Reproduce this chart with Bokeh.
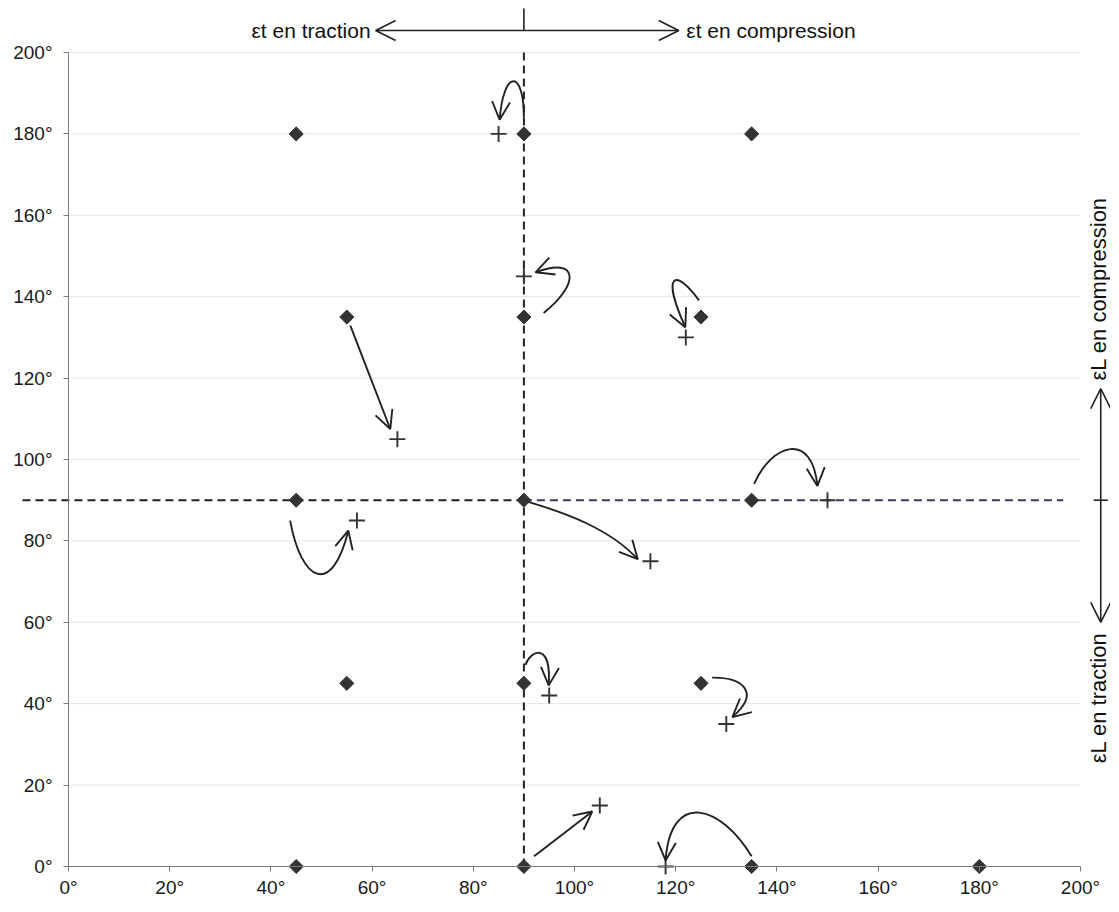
import numpy as np
from bokeh.plotting import figure
from bokeh.models import (Arrow, OpenHead, Label, ColumnDataSource, FixedTicker,
                          Range1d)
from bokeh.embed import file_html
from bokeh.resources import INLINE

# ---------------- data ----------------
tick_values = [0, 20, 40, 60, 80, 100, 120, 140, 160, 180, 200]
tick_labels = ["0°", "20°", "40°", "60°", "80°", "100°", "120°", "140°", "160°", "180°", "200°"]

# initial orientations (diamonds)
init_x = [45, 90, 135, 55, 90, 125, 45, 90, 135, 55, 90, 125, 45, 90, 135, 180]
init_y = [180, 180, 180, 135, 135, 135, 90, 90, 90, 45, 45, 45, 0, 0, 0, 0]

# final orientations (crosses)
final_x = [85, 90, 122, 65, 150, 57, 115, 95, 130, 105, 118]
final_y = [180, 145, 130, 105, 90, 85, 75, 42, 35, 15, 0]

# hand-drawn evolution arrows: start, control 1, control 2, end
arr_x0 = [90.0, 93.9, 124.6, 55.7, 43.8, 90.5, 135.5, 90.3, 127.2, 92.0, 135.0]
arr_y0 = [184.0, 136.0, 139.1, 132.9, 85.0, 89.7, 94.0, 49.5, 46.4, 2.5, 2.5]
arr_cx0 = [90.0, 101.0, 120.0, 58.3, 46.0, 98.0, 139.0, 91.5, 133.0, 95.8, 129.0]
arr_cy0 = [196.0, 143.0, 147.0, 124.4, 70.0, 87.0, 104.0, 53.5, 46.5, 6.2, 15.0]
arr_cx1 = [86.0, 101.0, 117.0, 61.0, 52.0, 107.0, 147.0, 95.5, 137.0, 99.7, 119.0]
arr_cy1 = [196.0, 150.0, 146.0, 116.0, 66.0, 83.0, 107.0, 55.0, 43.0, 9.8, 19.0]
arr_x1 = [85.2, 92.3, 121.9, 63.6, 55.3, 112.5, 148.0, 94.9, 131.2, 103.5, 118.0]
arr_y1 = [183.5, 146.0, 132.5, 107.5, 82.5, 75.5, 93.5, 44.5, 36.7, 13.5, 1.5]

# reference (symmetry) lines
vline_x = 90
vline_y = (0, 200)
hline_y = 90
hline_left_x = (-9.1, 90)
hline_right_x = (90, 196.6)

# axis annotations (strain directions)
top_arrow_y = 205.4
top_arrow_x = (60.7, 120.6)
top_tick_y = (205.4, 210.8)
right_arrow_x = 204.0
right_text_x = 203.6
right_arrow_y = (117.4, 60.0)
right_tick_x = (202.6, 205.4)

# ---------------- layout ----------------
W, H = 1110, 902
LEFT, RIGHT, TOP, BOTTOM = 68, 1080, 52, 866   # pixel position of data 0..200
sx = (RIGHT - LEFT) / 200.0
sy = (BOTTOM - TOP) / 200.0
x_range = Range1d(-LEFT / sx, 200 + (W - RIGHT) / sx)
y_range = Range1d(-(H - BOTTOM) / sy, 200 + TOP / sy)

FONT = "Liberation Sans"
INK = "#222222"

p = figure(width=W, height=H, x_range=x_range, y_range=y_range,
           output_backend="svg", toolbar_location=None,
           min_border_left=0, min_border_right=0, min_border_top=0, min_border_bottom=0)
p.outline_line_color = None
p.xgrid.visible = False
p.ygrid.visible = False

for ax in (p.xaxis[0], p.yaxis[0]):
    ax.fixed_location = 0
    ax.bounds = (0, 200)
    ax.ticker = FixedTicker(ticks=tick_values)
    ax.major_label_overrides = {t: l for t, l in zip(tick_values, tick_labels)}
    ax.axis_line_color = "#7a7a7a"
    ax.major_tick_line_color = "#7a7a7a"
    ax.major_tick_in = 0
    ax.major_tick_out = 5
    ax.minor_tick_line_color = None
    ax.major_label_text_font = FONT
    ax.major_label_text_font_size = "19px"
    ax.major_label_text_color = "#1a1a1a"
p.yaxis.major_label_standoff = 11
p.xaxis.major_label_standoff = 5

# faint horizontal grid lines
p.segment(x0=[0] * len(tick_values), x1=[200] * len(tick_values),
          y0=tick_values, y1=tick_values, line_color="#e6e6e6", line_width=1, level="underlay")

# dashed reference lines
p.segment(x0=[vline_x], y0=[vline_y[0]], x1=[vline_x], y1=[vline_y[1]],
          line_color="#222222", line_width=2, line_dash="8 5")
p.segment(x0=[hline_left_x[0]], y0=[hline_y], x1=[hline_left_x[1]], y1=[hline_y],
          line_color="#222222", line_width=2, line_dash="8 5")
p.segment(x0=[hline_right_x[0]], y0=[hline_y], x1=[hline_right_x[1]], y1=[hline_y],
          line_color="#3a3a60", line_width=2, line_dash="8 5")

# evolution curves
src = ColumnDataSource(dict(x0=arr_x0, y0=arr_y0, cx0=arr_cx0, cy0=arr_cy0,
                            cx1=arr_cx1, cy1=arr_cy1, x1=arr_x1, y1=arr_y1))
p.bezier(x0="x0", y0="y0", x1="x1", y1="y1", cx0="cx0", cy0="cy0", cx1="cx1", cy1="cy1",
         source=src, line_color=INK, line_width=1.9)
p.add_layout(Arrow(x_start="cx1", y_start="cy1", x_end="x1", y_end="y1", source=src,
                   line_alpha=0,
                   end=OpenHead(size=18, line_color=INK, line_width=1.9)))

# points
p.scatter(init_x, init_y, marker="square", angle=np.pi / 4, size=10,
          fill_color="#333333", line_color="#333333")
p.scatter(final_x, final_y, marker="cross", size=16, line_color="#333333", line_width=1.9)

# top annotation (transverse strain)
for xe in top_arrow_x:
    p.add_layout(Arrow(x_start=vline_x, y_start=top_arrow_y, x_end=xe, y_end=top_arrow_y,
                       line_color=INK, line_width=1.6,
                       end=OpenHead(size=20, line_color=INK, line_width=1.6)))
p.segment(x0=[vline_x], y0=[top_tick_y[0]], x1=[vline_x], y1=[top_tick_y[1]],
          line_color=INK, line_width=1.6)
p.add_layout(Label(x=top_arrow_x[0] - 1.0, y=top_arrow_y, text="εt en traction",
                   text_font=FONT, text_font_size="21px", text_color="#111111",
                   text_align="right", text_baseline="middle"))
p.add_layout(Label(x=top_arrow_x[1] + 1.5, y=top_arrow_y, text="εt en compression",
                   text_font=FONT, text_font_size="21px", text_color="#111111",
                   text_align="left", text_baseline="middle"))

# right annotation (longitudinal strain)
for ye in right_arrow_y:
    p.add_layout(Arrow(x_start=right_arrow_x, y_start=hline_y, x_end=right_arrow_x, y_end=ye,
                       line_color=INK, line_width=1.6,
                       end=OpenHead(size=20, line_color=INK, line_width=1.6)))
p.segment(x0=[right_tick_x[0]], y0=[hline_y], x1=[right_tick_x[1]], y1=[hline_y],
          line_color=INK, line_width=1.6)
p.add_layout(Label(x=right_text_x, y=right_arrow_y[0] + 2.0, text="εL en compression",
                   text_font=FONT, text_font_size="22px", text_color="#111111", angle=np.pi / 2,
                   text_align="left", text_baseline="middle"))
p.add_layout(Label(x=right_text_x, y=right_arrow_y[1] - 2.5, text="εL en traction",
                   text_font=FONT, text_font_size="22px", text_color="#111111", angle=np.pi / 2,
                   text_align="right", text_baseline="middle"))

open("out.html", "w").write(file_html(p, INLINE))
